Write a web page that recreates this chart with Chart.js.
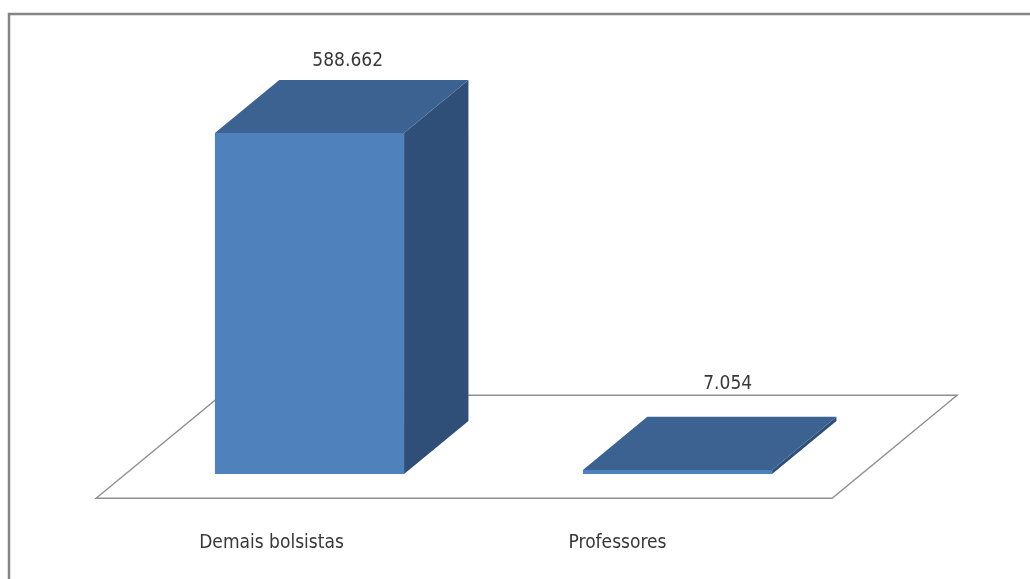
<!DOCTYPE html>
<html>
<head>
<meta charset="utf-8">
<script src="https://cdn.jsdelivr.net/npm/chart.js@4/dist/chart.umd.min.js"></script>
<style>
  html, body { margin: 0; padding: 0; background: #fff; }
  #wrap { width: 1030px; height: 579px; position: relative; }
</style>
</head>
<body>
<div id="wrap"><canvas id="c" width="1030" height="579"></canvas></div>
<script>
const categories = ["Demais bolsistas", "Professores"];
const values = [588662, 7054];
const valueLabels = ["588.662", "7.054"];

const FONT = '"Liberation Sans Narrow", "DejaVu Sans Condensed", "Open Sans", sans-serif';
const FRONT = '#4f81bd';
const TOP = '#3b6291';
const SIDE = '#2f4f78';
const DEPTH = { x: 125, y: -103 };
const T_FRONT = 0.235, T_BACK = 0.75;
const LABEL_DY = [-19, -33];
const LABEL_DX = [6, 18];

const threeD = {
  id: 'threeD',
  beforeDatasetsDraw(chart) {
    const { ctx, chartArea: a } = chart;
    ctx.save();
    ctx.strokeStyle = '#858585';
    ctx.lineWidth = 2.5;
    ctx.beginPath();
    ctx.moveTo(9, 600); ctx.lineTo(9, 14); ctx.lineTo(1040, 14);
    ctx.stroke();
    const fx0 = a.left - T_FRONT * DEPTH.x, fy0 = a.bottom - T_FRONT * DEPTH.y;
    const fx1 = a.right - T_FRONT * DEPTH.x;
    ctx.strokeStyle = '#8f8f8f';
    ctx.lineWidth = 1.4;
    ctx.beginPath();
    ctx.moveTo(fx0, fy0);
    ctx.lineTo(fx1, fy0);
    ctx.lineTo(fx1 + DEPTH.x, fy0 + DEPTH.y);
    ctx.lineTo(fx0 + DEPTH.x, fy0 + DEPTH.y);
    ctx.closePath();
    ctx.stroke();
    const meta = chart.getDatasetMeta(0);
    const dx = (T_BACK - T_FRONT) * DEPTH.x, dy = (T_BACK - T_FRONT) * DEPTH.y;
    meta.data.forEach((bar) => {
      const p = bar.getProps(['x', 'y', 'base', 'width'], true);
      const l = p.x - p.width / 2, r = p.x + p.width / 2;
      ctx.fillStyle = SIDE;
      ctx.beginPath();
      ctx.moveTo(r, p.y); ctx.lineTo(r + dx, p.y + dy);
      ctx.lineTo(r + dx, p.base + dy); ctx.lineTo(r, p.base);
      ctx.closePath(); ctx.fill();
      ctx.fillStyle = TOP;
      ctx.beginPath();
      ctx.moveTo(l, p.y); ctx.lineTo(r, p.y);
      ctx.lineTo(r + dx, p.y + dy); ctx.lineTo(l + dx, p.y + dy);
      ctx.closePath(); ctx.fill();
    });
    ctx.restore();
  },
  afterDatasetsDraw(chart) {
    const { ctx, chartArea: a } = chart;
    const meta = chart.getDatasetMeta(0);
    const dx = (T_BACK - T_FRONT) * DEPTH.x, dy = (T_BACK - T_FRONT) * DEPTH.y;
    ctx.save();
    ctx.fillStyle = '#383838';
    ctx.font = '19px ' + FONT;
    ctx.textAlign = 'center';
    ctx.textBaseline = 'middle';
    meta.data.forEach((bar, i) => {
      const p = bar.getProps(['x', 'y', 'base', 'width'], true);
      ctx.fillText(valueLabels[i], p.x + dx / 2 + LABEL_DX[i], p.y + dy + LABEL_DY[i]);
      ctx.fillText(categories[i], p.x - 38 - i * 22, a.bottom + 69);
    });
    ctx.restore();
  }
};

new Chart(document.getElementById('c'), {
  type: 'bar',
  data: {
    labels: categories,
    datasets: [{
      data: values,
      backgroundColor: FRONT,
      borderWidth: 0,
      barPercentage: 0.514,
      categoryPercentage: 1
    }]
  },
  options: {
    responsive: false,
    animation: false,
    events: [],
    layout: { padding: { left: 125.5, right: 168.5, top: 133, bottom: 105 } },
    plugins: { legend: { display: false }, tooltip: { enabled: false } },
    scales: {
      x: { display: false, offset: true },
      y: { display: false, min: 0, max: Math.max(...values) }
    }
  },
  plugins: [threeD]
});
</script>
</body>
</html>
